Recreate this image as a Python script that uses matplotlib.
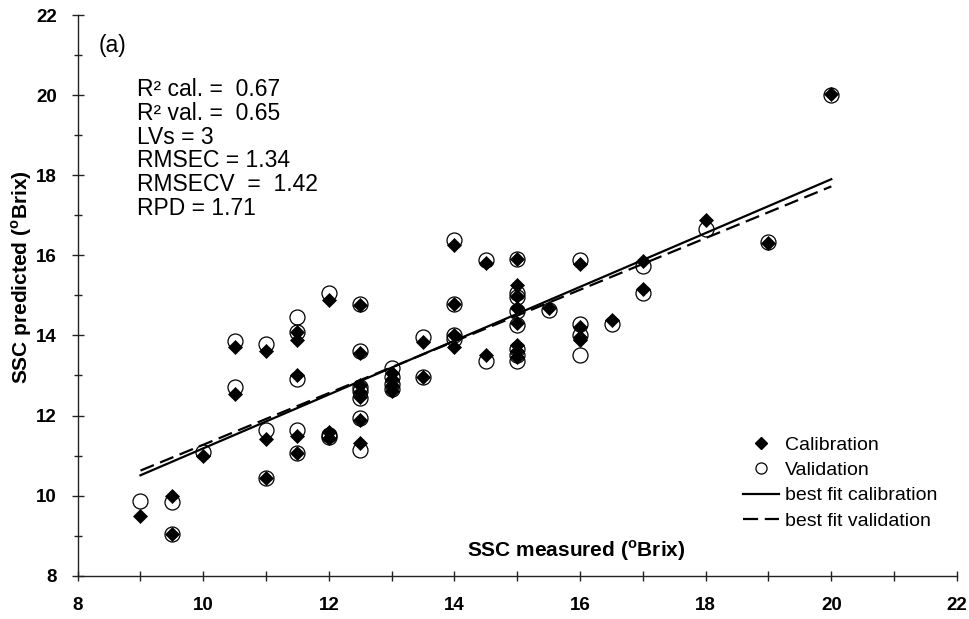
import numpy as np
import matplotlib
matplotlib.use("Agg")
import matplotlib.pyplot as plt
from matplotlib.lines import Line2D
from matplotlib.ticker import MultipleLocator

plt.rcParams['font.family'] = ['Liberation Sans', 'DejaVu Sans']
plt.rcParams['mathtext.fontset'] = 'custom'
plt.rcParams['mathtext.rm'] = 'Liberation Sans'
plt.rcParams['mathtext.bf'] = 'Liberation Sans:bold'

# SSC measured / predicted (oBrix), one entry per sample
measured = [9, 9.5, 9.5, 10, 10.5, 10.5, 11, 11, 11,
            11.5, 11.5, 11.5, 11.5, 11.5, 12, 12, 12,
            12.5, 12.5, 12.5, 12.5, 12.5, 12.5, 12.5,
            13, 13, 13, 13, 13.5, 13.5, 14, 14, 14, 14, 14.5, 14.5,
            15, 15, 15, 15, 15, 15, 15, 15, 15.5,
            16, 16, 16, 16, 16.5, 17, 17, 18, 19, 20]
cal_pred = [9.50, 10.00, 9.04, 10.99, 13.70, 12.54, 13.62, 11.41, 10.43,
            14.09, 13.88, 13.01, 11.49, 11.07, 14.88, 11.58, 11.43,
            14.75, 13.56, 12.76, 12.59, 12.45, 11.90, 11.32,
            13.05, 12.90, 12.73, 12.60, 13.84, 12.95, 16.26, 14.78, 14.00, 13.70, 15.80, 13.51,
            15.90, 15.27, 14.98, 14.68, 14.30, 13.75, 13.62, 13.47, 14.68,
            15.78, 14.20, 13.88, 13.95, 14.38, 15.86, 15.15, 16.88, 16.30, 20.02]
val_pred = [9.87, 9.83, 9.04, 11.09, 13.87, 12.71, 13.79, 11.64, 10.43,
            14.09, 14.45, 12.92, 11.64, 11.07, 15.05, 11.52, 11.47,
            14.78, 13.60, 12.70, 12.62, 12.44, 11.95, 11.14,
            13.18, 12.95, 12.78, 12.65, 13.95, 12.95, 16.38, 14.78, 14.02, 13.90, 15.88, 13.36,
            15.90, 15.07, 14.95, 14.62, 14.25, 13.66, 13.52, 13.36, 14.63,
            15.88, 14.28, 14.00, 13.52, 14.28, 15.73, 15.05, 16.65, 16.33, 20.00]

# best fit lines (slope, intercept) and range of measured values
fit_cal = [0.672, 4.46]
fit_val = [0.645, 4.82]
fit_range = [9, 20]

stats = ["R\u00b2 cal. =  0.67", "R\u00b2 val. =  0.65", "LVs = 3",
         "RMSEC = 1.34", "RMSECV  =  1.42", "RPD = 1.71"]

fig = plt.figure(figsize=(9.7, 6.19), dpi=100)
ax = fig.add_axes([77.7 / 970, 1 - 575.7 / 619, 879.2 / 970, 560.7 / 619])

ax.plot(measured, val_pred, linestyle='none', marker='o', ms=10.8,
        mfc='none', mec='black', mew=0.9, zorder=3)
ax.plot(measured, cal_pred, linestyle='none', marker='D', ms=6.8,
        mfc='black', mec='black', mew=0.5, zorder=4)

xf = np.array(fit_range, dtype=float)
ax.plot(xf, np.polyval(fit_cal, xf), color='black', lw=1.6, zorder=2)
ax.plot(xf, np.polyval(fit_val, xf), color='black', lw=1.6,
        dashes=(6.5, 3), zorder=2)

ax.set_xlim(8, 22)
ax.set_ylim(8, 22)
ax.xaxis.set_major_locator(MultipleLocator(2))
ax.xaxis.set_minor_locator(MultipleLocator(1))
ax.yaxis.set_major_locator(MultipleLocator(2))
ax.yaxis.set_minor_locator(MultipleLocator(1))

for s in ['top', 'right']:
    ax.spines[s].set_visible(False)
for s in ['left', 'bottom']:
    ax.spines[s].set_linewidth(1.0)
    ax.spines[s].set_color('#222222')

ax.tick_params(axis='both', which='both', direction='inout', width=1.0,
               color='#222222')
ax.tick_params(axis='x', which='both', length=7)
ax.tick_params(axis='x', which='major', pad=12, labelsize=13.5)
ax.tick_params(axis='y', which='major', length=8, pad=11, labelsize=13.5)
ax.tick_params(axis='y', which='minor', length=6)
for lab in ax.get_xticklabels() + ax.get_yticklabels():
    lab.set_fontweight('bold')

fig.text(576 / 970, 1 - 551 / 619, r'SSC measured ($^{\mathbf{o}}$Brix)',
         ha='center', va='center', fontsize=15, fontweight='bold')
fig.text(22 / 970, 1 - 277 / 619, r'SSC predicted ($^{\mathbf{o}}$Brix)',
         ha='center', va='center', rotation=90, fontsize=15,
         fontweight='bold')

ax.text(8.34, 21.25, '(a)', fontsize=16.5, ha='left', va='center')
for i, line in enumerate(stats):
    ax.text(8.946, 20.13 - i * 0.59, line, fontsize=16.5, ha='left',
            va='center')

handles = [
    Line2D([], [], linestyle='none', marker='D', ms=6, mfc='black',
           mec='black'),
    Line2D([], [], linestyle='none', marker='o', ms=8, mfc='none',
           mec='black', mew=0.9),
    Line2D([], [], color='black', lw=1.6),
    Line2D([], [], color='black', lw=1.6, dashes=(6.8, 3)),
]
labels = ['Calibration', 'Validation', 'best fit calibration',
          'best fit validation']
ax.legend(handles, labels, loc='upper left',
          bbox_to_anchor=((743 - 77.7) / 879.2, (575.7 - 436) / 560.7),
          frameon=False, fontsize=14, handlelength=1.85, handletextpad=0.3,
          labelspacing=0.4, borderpad=0, borderaxespad=0)

fig.savefig('out.png', dpi=100)
